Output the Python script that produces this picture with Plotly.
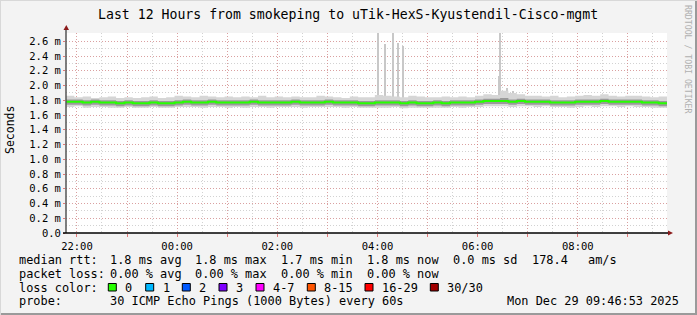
import plotly.graph_objects as go
from datetime import datetime, timedelta

# ---------------- data ----------------
start_time = "2025-12-28 21:46:53"
end_time = "2025-12-29 09:46:53"
step_minutes = 10

median_rtt = [1.78, 1.78, 1.77, 1.78, 1.77, 1.77, 1.76, 1.77,
              1.76, 1.76, 1.77, 1.76, 1.76, 1.77,
              1.78, 1.77, 1.77, 1.78, 1.77, 1.77,
              1.77, 1.77, 1.78, 1.77, 1.77, 1.77,
              1.77, 1.78, 1.77, 1.77, 1.77, 1.78,
              1.77, 1.77, 1.77, 1.76, 1.76, 1.77,
              1.77, 1.77, 1.76, 1.77, 1.76, 1.76,
              1.77, 1.76, 1.77, 1.77, 1.77, 1.78,
              1.79, 1.79, 1.79, 1.78, 1.79, 1.78,
              1.78, 1.78, 1.77, 1.77, 1.77, 1.78,
              1.78, 1.78, 1.79, 1.78, 1.78, 1.78,
              1.78, 1.77, 1.77, 1.76, 1.76]

smoke_outer_hi = [1.86, 1.84, 1.85, 1.83, 1.84, 1.85, 1.83, 1.84,
                  1.83, 1.84, 1.85, 1.83, 1.84, 1.86,
                  1.85, 1.84, 1.86, 1.85, 1.84, 1.85,
                  1.84, 1.85, 1.84, 1.86, 1.84, 1.85,
                  1.84, 1.85, 1.84, 1.84, 1.86, 1.85,
                  1.84, 1.83, 1.85, 1.84, 1.84, 1.87,
                  1.86, 1.85, 1.84, 1.86, 1.85, 1.84,
                  1.84, 1.85, 1.84, 1.85, 1.84, 1.86,
                  1.88, 1.87, 1.93, 1.90, 1.88, 1.86,
                  1.86, 1.85, 1.86, 1.84, 1.85, 1.86,
                  1.87, 1.86, 1.88, 1.86, 1.85, 1.86,
                  1.86, 1.85, 1.84, 1.85, 1.84]

smoke_outer_lo = [1.71, 1.72, 1.70, 1.71, 1.71, 1.70, 1.70, 1.71,
                  1.70, 1.70, 1.71, 1.70, 1.70, 1.71,
                  1.71, 1.71, 1.70, 1.71, 1.71, 1.70,
                  1.71, 1.70, 1.71, 1.71, 1.70, 1.71,
                  1.71, 1.71, 1.70, 1.71, 1.71, 1.71,
                  1.71, 1.70, 1.71, 1.70, 1.70, 1.70,
                  1.70, 1.71, 1.69, 1.70, 1.70, 1.70,
                  1.70, 1.70, 1.71, 1.70, 1.71, 1.71,
                  1.72, 1.72, 1.72, 1.71, 1.72, 1.72,
                  1.71, 1.72, 1.71, 1.71, 1.70, 1.71,
                  1.72, 1.71, 1.72, 1.72, 1.71, 1.72,
                  1.71, 1.71, 1.70, 1.70, 1.70]

smoke_inner_hi = [1.81, 1.81, 1.80, 1.81, 1.80, 1.80, 1.79, 1.80,
                  1.79, 1.79, 1.80, 1.79, 1.79, 1.80,
                  1.81, 1.80, 1.80, 1.81, 1.80, 1.80,
                  1.80, 1.80, 1.81, 1.80, 1.80, 1.80,
                  1.80, 1.81, 1.80, 1.80, 1.80, 1.81,
                  1.80, 1.80, 1.80, 1.79, 1.79, 1.80,
                  1.80, 1.80, 1.79, 1.80, 1.79, 1.79,
                  1.80, 1.79, 1.80, 1.80, 1.80, 1.81,
                  1.82, 1.82, 1.83, 1.81, 1.82, 1.81,
                  1.81, 1.81, 1.80, 1.80, 1.80, 1.81,
                  1.81, 1.81, 1.82, 1.81, 1.81, 1.81,
                  1.81, 1.80, 1.80, 1.79, 1.79]

smoke_inner_lo = [1.74, 1.74, 1.73, 1.74, 1.73, 1.73, 1.72, 1.73,
                  1.72, 1.72, 1.73, 1.72, 1.72, 1.73,
                  1.74, 1.73, 1.73, 1.74, 1.73, 1.73,
                  1.73, 1.73, 1.74, 1.73, 1.73, 1.73,
                  1.73, 1.74, 1.73, 1.73, 1.73, 1.74,
                  1.73, 1.73, 1.73, 1.72, 1.72, 1.73,
                  1.73, 1.73, 1.72, 1.73, 1.72, 1.72,
                  1.73, 1.72, 1.73, 1.73, 1.73, 1.74,
                  1.75, 1.75, 1.75, 1.74, 1.75, 1.74,
                  1.74, 1.74, 1.73, 1.73, 1.73, 1.74,
                  1.74, 1.74, 1.75, 1.74, 1.74, 1.74,
                  1.74, 1.73, 1.73, 1.72, 1.72]

spike_times = ["2025-12-29 04:00:29", "2025-12-29 04:08:53", "2025-12-29 04:18:53",
               "2025-12-29 04:24:53", "2025-12-29 04:30:53", "2025-12-29 06:25:41",
               "2025-12-29 06:27:41", "2025-12-29 06:35:00", "2025-12-29 06:43:00"]
spike_tops = [2.78, 2.56, 2.78, 2.58, 2.53, 2.13, 2.78, 1.96, 1.92]
spike_bases = [1.82, 1.82, 1.82, 1.82, 1.82, 1.84, 1.84, 1.84, 1.84]

y_tick_values = [0.0, 0.2, 0.4, 0.6, 0.8, 1.0, 1.2, 1.4, 1.6, 1.8, 2.0, 2.2, 2.4, 2.6]
y_tick_labels = ["0.0", "0.2 m", "0.4 m", "0.6 m", "0.8 m", "1.0 m", "1.2 m", "1.4 m",
                 "1.6 m", "1.8 m", "2.0 m", "2.2 m", "2.4 m", "2.6 m"]
x_tick_hours = ["2025-12-28 22:00", "2025-12-28 23:00", "2025-12-29 00:00", "2025-12-29 01:00",
                "2025-12-29 02:00", "2025-12-29 03:00", "2025-12-29 04:00", "2025-12-29 05:00",
                "2025-12-29 06:00", "2025-12-29 07:00", "2025-12-29 08:00", "2025-12-29 09:00"]
x_tick_labels = ["22:00", "", "00:00", "", "02:00", "", "04:00", "", "06:00", "", "08:00", ""]

loss_labels = ["0", "1", "2", "3", "4-7", "8-15", "16-29", "30/30"]
loss_colors = ["#26ff00", "#00b8ff", "#0059ff", "#7e00ff", "#ff00ff", "#ff5500", "#ff0000", "#a10000"]

title_text = "Last 12 Hours from smokeping to uTik-HexS-Kyustendil-Cisco-mgmt"

# ---------------- build ----------------
t0 = datetime.strptime(start_time, "%Y-%m-%d %H:%M:%S")
times = [t0 + timedelta(minutes=step_minutes * i) for i in range(len(median_rtt))]

W, H = 697, 315
L, R, T, B = 66, 667, 33, 233
PW, PH = R - L, B - T


def px(x):
    return (x - L) / PW


def py(y):
    return (B - y) / PH


MONO = "DejaVu Sans Mono"
MAJ = "rgba(225,110,110,0.5)"
MIN = "rgba(180,180,180,0.6)"
fig = go.Figure()


def band(lo, hi, color):
    fig.add_trace(go.Scatter(x=times, y=lo, mode="lines", line=dict(width=0, shape="hv"),
                             hoverinfo="skip", showlegend=False))
    fig.add_trace(go.Scatter(x=times, y=hi, mode="lines", line=dict(width=0, shape="hv"),
                             fill="tonexty", fillcolor=color, hoverinfo="skip", showlegend=False))


band(smoke_outer_lo, smoke_outer_hi, "#d6d6d6")
band(smoke_inner_lo, smoke_inner_hi, "#9a9a9a")

fig.add_trace(go.Bar(x=spike_times, base=spike_bases,
                     y=[t - b for t, b in zip(spike_tops, spike_bases)],
                     width=110000, marker=dict(color="#c8c8c8", line=dict(width=0)),
                     showlegend=False, hoverinfo="skip"))

fig.add_trace(go.Scatter(x=times, y=median_rtt, mode="lines",
                         line=dict(color=loss_colors[0], width=2, shape="hv"),
                         showlegend=False))

fig.update_layout(
    width=W, height=H,
    margin=dict(l=L, r=W - R, t=T, b=H - B, pad=0),
    paper_bgcolor="#f3f3f3", plot_bgcolor="#ffffff",
    showlegend=False, bargap=0,
    font=dict(family=MONO, size=11, color="#000000"),
)

fig.update_xaxes(
    type="date", range=[start_time, end_time],
    tickmode="array", tickvals=x_tick_hours, ticktext=x_tick_labels,
    showgrid=True, gridcolor=MAJ, griddash="1px,2px", gridwidth=1,
    minor=dict(tick0="2025-12-28 22:00", dtick=1800000, showgrid=True,
               gridcolor=MIN, griddash="1px,2px", gridwidth=1),
    ticks="outside", ticklen=3, tickcolor="rgba(220,90,90,0.8)",
    tickfont=dict(family=MONO, size=10.5, color="#000"),
    showline=False, zeroline=False, fixedrange=True,
)
fig.update_yaxes(
    range=[0, 2.712],
    tickmode="array", tickvals=y_tick_values, ticktext=y_tick_labels,
    showgrid=True, gridcolor=MAJ, griddash="1px,2px", gridwidth=1,
    minor=dict(tick0=0, dtick=0.1, showgrid=True, gridcolor=MIN,
               griddash="1px,2px", gridwidth=1),
    ticks="outside", ticklen=2, tickcolor="rgba(220,90,90,0.8)",
    tickfont=dict(family=MONO, size=10.5, color="#000"),
    showline=False, zeroline=False, fixedrange=True,
)

shapes = []
# axes
shapes.append(dict(type="line", xref="paper", yref="paper", x0=0, x1=0, y0=0, y1=py(28),
                   line=dict(color="#555555", width=1.5)))
shapes.append(dict(type="path", xref="paper", yref="paper",
                   path=f"M {px(63.5)} {py(30)} L {px(69)} {py(30)} L {px(66.3)} {py(25)} Z",
                   fillcolor="#8b1a1a", line=dict(width=0)))
shapes.append(dict(type="line", xref="paper", yref="paper", x0=px(63), x1=px(669), y0=0, y1=0,
                   line=dict(color="#000000", width=1.5)))
shapes.append(dict(type="path", xref="paper", yref="paper",
                   path=f"M {px(668)} {py(230.5)} L {px(668)} {py(235.5)} L {px(673)} {py(233)} Z",
                   fillcolor="#8b1a1a", line=dict(width=0)))
# frame
shapes.append(dict(type="line", xref="paper", yref="paper", x0=px(0), x1=px(W), y0=py(H - 1),
                   y1=py(H - 1), line=dict(color="#9a9a9a", width=2)))
shapes.append(dict(type="line", xref="paper", yref="paper", x0=px(W - 1), x1=px(W - 1), y0=py(0),
                   y1=py(H), line=dict(color="#9a9a9a", width=2)))
shapes.append(dict(type="line", xref="paper", yref="paper", x0=px(0), x1=px(W), y0=py(0.5),
                   y1=py(0.5), line=dict(color="#d8d8d8", width=1)))
shapes.append(dict(type="line", xref="paper", yref="paper", x0=px(0.5), x1=px(0.5), y0=py(0),
                   y1=py(H), line=dict(color="#d8d8d8", width=1)))

ann = []


def text(x, y, s, size=11.9, color="#000", anchor="left", angle=0):
    ann.append(dict(xref="paper", yref="paper", x=px(x), y=py(y), text=s, showarrow=False,
                    xanchor=anchor, yanchor="middle", textangle=angle,
                    font=dict(family=MONO, size=size, color=color)))


text(347.5, 14, title_text, size=13.2, anchor="center")
text(10, 130, "Seconds", size=11.5, anchor="center", angle=-90)
text(688, 59, "RRDTOOL / TOBI OETIKER", size=8.2, color="#b0b0b0", anchor="center", angle=90)

y1, y2, y3, y4 = 260, 273.5, 287.5, 301
text(16.7, y1, "median rtt:")
for x, s in [(107.7, "1.8 ms avg"), (193.3, "1.8 ms max"), (279.3, "1.7 ms min"),
             (365.3, "1.8 ms now"), (451, "0.0 ms sd"), (530, "178.4"), (586, "am/s")]:
    text(x, y1, s)
text(16.7, y2, "packet loss:")
for x, s in [(107.7, "0.00 % avg"), (193.3, "0.00 % max"), (279.3, "0.00 % min"),
             (365.3, "0.00 % now")]:
    text(x, y2, s)
text(16.7, y3, "loss color:")
box_x = [108.3, 145.7, 182.3, 219, 256, 307.3, 365, 430.3]
for bx, lab, col in zip(box_x, loss_labels, loss_colors):
    shapes.append(dict(type="rect", xref="paper", yref="paper", x0=px(bx), x1=px(bx + 8),
                       y0=py(291), y1=py(283.5), fillcolor=col, line=dict(color="#000", width=1)))
    text(bx + 15, y3, lab)
text(16.7, y4, "probe:")
text(107.7, y4, "30 ICMP Echo Pings (1000 Bytes) every 60s")
text(680.5, y4, "Mon Dec 29 09:46:53 2025", anchor="right")

fig.update_layout(shapes=shapes, annotations=ann)
fig.write_html("out.html")
